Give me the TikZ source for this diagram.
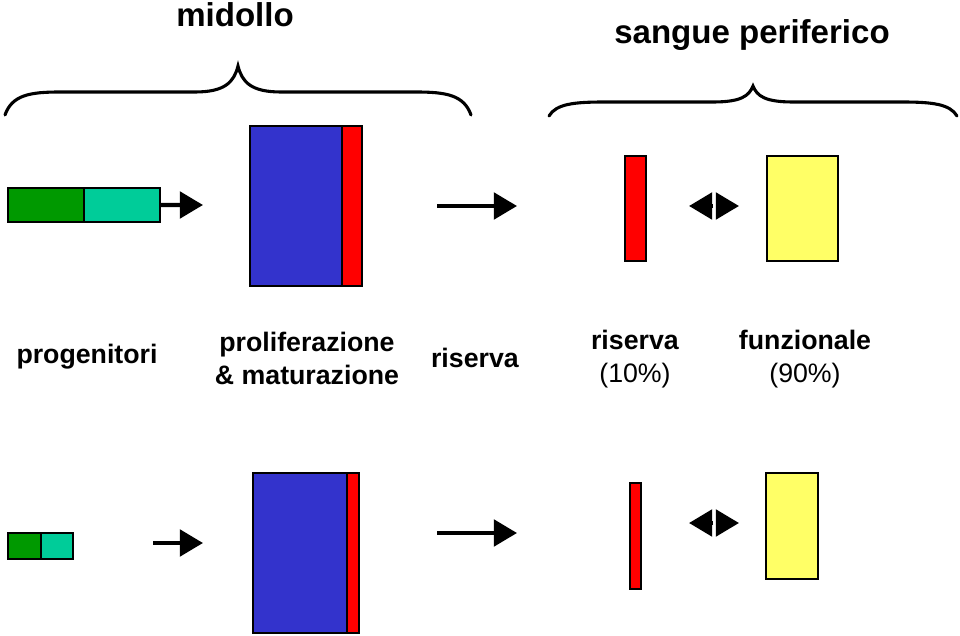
\documentclass[tikz,border=0pt]{standalone}
\usepackage{fontspec}
\setmainfont{Liberation Sans}
\usepackage{xcolor}
\usetikzlibrary{arrows.meta}
\usetikzlibrary{positioning}

\definecolor{progdark}{RGB}{0,153,0}
\definecolor{progteal}{RGB}{0,204,153}
\definecolor{prolblue}{RGB}{51,51,204}
\definecolor{cellred}{RGB}{255,0,0}
\definecolor{funyellow}{RGB}{255,255,102}

\tikzset{
	box/.style={draw, line width=1.4pt, inner sep=0pt, outer sep=0pt, anchor=north west},
	flow/.style={line width=3pt, -{Triangle[length=5.8mm,width=6.6mm]}},
	brace/.style={line width=2.2pt, line cap=round},
	title/.style={font=\fontsize{23.5}{28}\selectfont\bfseries},
	lbl/.style={align=center, font=\fontsize{19}{23.5}\selectfont}
}

\begin{document}
\begin{tikzpicture}[x=0.025cm, y=-0.025cm]
		\useasboundingbox (0,0) rectangle (960,636);
		% titles and braces
		\node[title] (midollo) at (235,15) {midollo};
		\node[title] (sangue) at (752,35) {sangue periferico};
		\draw[brace] (5,115) .. controls (12,95) and (30,92) .. (60,92) -- (195,92)
			.. controls (225,92) and (234,82) .. (238,66)
			.. controls (242,82) and (251,92) .. (281,92) -- (416,92)
			.. controls (446,92) and (464,95) .. (471,115);
		\draw[brace] (549,116) .. controls (556,104) and (574,102) .. (604,102) -- (713,102)
			.. controls (741,102) and (749,96) .. (753,86)
			.. controls (757,96) and (765,102) .. (793,102) -- (902,102)
			.. controls (932,102) and (950,104) .. (957,116);
		% first row
		\node[box, fill=progdark, minimum width=1.9cm, minimum height=0.85cm] (progA) at (8,188) {};
		\node[box, fill=progteal, minimum width=1.9cm, minimum height=0.85cm] (progB) at (84,188) {};
		\node[box, fill=prolblue, minimum width=2.3cm, minimum height=4cm] (prol) at (250,126) {};
		\node[box, fill=cellred, minimum width=0.5cm, minimum height=4cm] (prolR) at (342,126) {};
		\node[box, fill=cellred, minimum width=0.525cm, minimum height=2.625cm] (ris) at (625,156) {};
		\node[box, fill=funyellow, minimum width=1.775cm, minimum height=2.625cm] (fun) at (767,156) {};
		\coordinate (a1) at (203,205);
		\coordinate (b0) at (437,206);
		\coordinate (b1) at (517,206);
		\coordinate (cL) at (713,206);
		\coordinate (cR) at (716,206);
		\coordinate (c0) at (689,206);
		\coordinate (c1) at (739,206);
		\draw[flow] (progB.east) -- (a1);
		\draw[flow] (b0) -- (b1);
		\draw[flow] (cL) -- (c0);
		\draw[flow] (cR) -- (c1);
		% labels
		\node[lbl] (tprog) at (87,357) {\textbf{progenitori}};
		\node[lbl] (tprol) at (307,358) {\textbf{proliferazione}\\\textbf{\& maturazione}};
		\node[lbl] (tmid) at (475,358) {\textbf{riserva}};
		\node[lbl] (tris) at (635,359) {\textbf{riserva}\\(10\%)};
		\node[lbl] (tfun) at (805,359) {\textbf{funzionale}\\(90\%)};
		% second row
		\node[box, fill=progdark, minimum width=0.825cm, minimum height=0.65cm] (progC) at (8,533) {};
		\node[box, fill=progteal, minimum width=0.8cm, minimum height=0.65cm] (progD) at (41,533) {};
		\node[box, fill=prolblue, minimum width=2.35cm, minimum height=4cm] (prol2) at (253,473) {};
		\node[box, fill=cellred, minimum width=0.3cm, minimum height=4cm] (prolR2) at (347,473) {};
		\node[box, fill=cellred, minimum width=0.275cm, minimum height=2.65cm] (ris2) at (630,483) {};
		\node[box, fill=funyellow, minimum width=1.3cm, minimum height=2.65cm] (fun2) at (766,473) {};
		\coordinate (d0) at (153,543);
		\coordinate (d1) at (203,543);
		\coordinate (e0) at (437,533);
		\coordinate (e1) at (517,533);
		\coordinate (fL) at (713,523);
		\coordinate (fR) at (716,523);
		\coordinate (f0) at (689,523);
		\coordinate (f1) at (739,523);
		\draw[flow] (d0) -- (d1);
		\draw[flow] (e0) -- (e1);
		\draw[flow] (fL) -- (f0);
		\draw[flow] (fR) -- (f1);
	\end{tikzpicture}
\end{document}
